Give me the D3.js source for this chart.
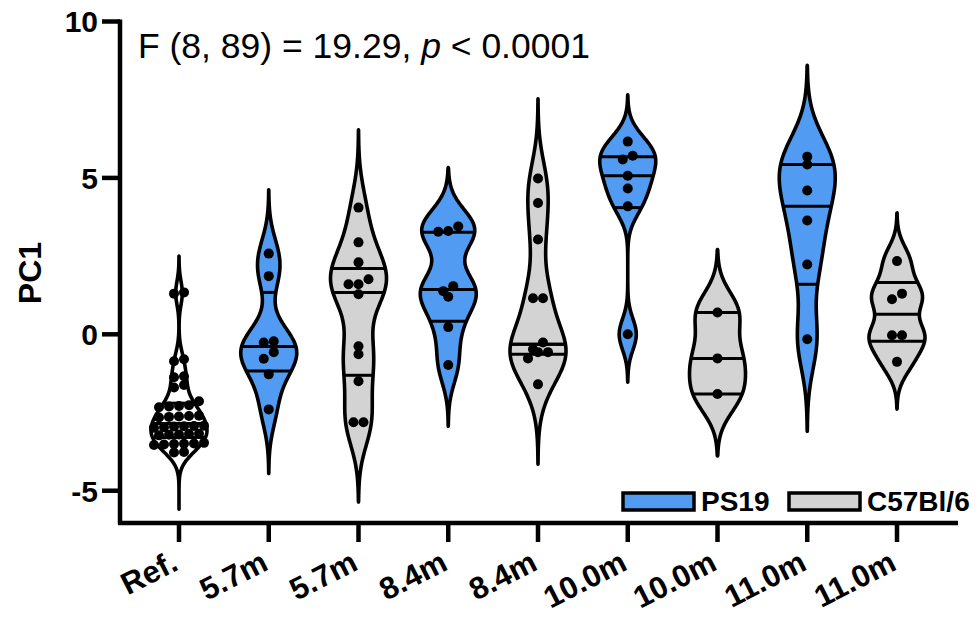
<!DOCTYPE html>
<html>
<head>
<meta charset="utf-8">
<script src="https://cdn.jsdelivr.net/npm/d3@7"></script>
<style>
  body { margin: 0; background: #fff; }
  text { font-family: "Liberation Sans", Arial, sans-serif; }
</style>
</head>
<body>
<svg id="chart" width="980" height="624"></svg>
<script>
// groups along the x axis
const groups = ["Ref.", "5.7m", "5.7m", "8.4m", "8.4m", "10.0m", "10.0m", "11.0m", "11.0m"];
const genotype = ["ref", "PS19", "C57", "PS19", "C57", "PS19", "C57", "PS19", "C57"];

// PC1 scores per animal
const refVals = [1.34, 1.3, -0.8, -0.86, -1.34, -1.37, -1.62, -1.7,
  -2.14, -2.27, -2.29, -2.31, -2.33,
  -2.6, -2.61, -2.63, -2.64, -2.66,
  -2.92, -2.93, -2.94, -2.95, -2.97, -2.99,
  -3.18, -3.19, -3.2, -3.21, -3.23,
  -3.47, -3.49, -3.5, -3.51, -3.52, -3.54,
  -3.76, -3.78];
const ps19_57 = [2.58, 1.86, -0.22, -0.26, -0.57, -0.78, -1.28, -2.4];
const c57_57 = [4.05, 2.94, 2.3, 1.76, 1.6, 1.6, 1.28, -0.38, -0.64, -1.5, -2.81, -2.81];
const ps19_84 = [3.45, 3.3, 3.28, 1.54, 1.38, 1.2, 0.23, -0.98];
const c57_84 = [4.98, 4.2, 3.03, 1.15, 1.15, -0.26, -0.48, -0.57, -0.57, -0.77, -1.6];
const ps19_100 = [6.16, 5.71, 5.59, 5.07, 4.66, 4.09, 0.0];
const c57_100 = [0.7, -0.77, -1.91];
const ps19_110 = [5.68, 5.43, 4.6, 3.64, 2.23, -0.16];
const c57_110 = [2.34, 1.3, 1.12, -0.03, -0.03, -0.88];
const values = [refVals, ps19_57, c57_57, ps19_84, c57_84, ps19_100, c57_100, ps19_110, c57_110];

// quartile lines as shown
const q1 = [-3.3, -1.17, -1.31, 0.42, -0.64, 4.05, -1.91, 1.6, -0.22];
const medians = [-2.85, -0.39, 1.34, 1.43, -0.32, 5.07, -0.77, 4.09, 0.64];
const q3 = [-2.2, 1.34, 2.1, 3.26, -0.32, 5.68, 0.7, 5.43, 1.66];

// violin extent and kernel bandwidth
const violinLow = [-5.59, -4.45, -5.36, -2.94, -4.15, -1.53, -3.89, -3.1, -2.39];
const violinHigh = [2.5, 4.62, 6.54, 5.33, 7.53, 7.66, 2.71, 8.6, 3.88];
const bandwidth = [0.38, 0.68, 0.83, 0.64, 0.85, 0.5, 0.67, 0.97, 0.5];

const yTicks = [-5, 0, 5, 10];
const legendKeys = ["PS19", "C57Bl/6"];

const colors = { ref: "#ffffff", PS19: "#519bf2", C57: "#d3d3d3" };

const svg = d3.select("#chart");

const y = d3.scaleLinear().domain([-6, 10]).range([522, 21.5]);
const x = d3.scalePoint().domain(d3.range(groups.length)).range([179, 897]);

const halfMax = 28;
const dotR = 5;

function kde(vals, bw) {
  return function (v) {
    let s = 0;
    vals.forEach(d => { const u = (v - d) / bw; s += Math.exp(-0.5 * u * u); });
    return s;
  };
}

const g = svg.append("g");

values.forEach((vals, i) => {
  const cx = x(i);
  const dens = kde(vals, bandwidth[i]);
  const grid = d3.range(0, 241).map(k => violinLow[i] + (violinHigh[i] - violinLow[i]) * k / 240);
  const maxD = d3.max(grid, dens);
  const w = v => halfMax * dens(v) / maxD;
  const pts = grid.map((v, k) => ({ v: v, w: (k === 0 || k === grid.length - 1) ? 0 : w(v) }));

  const area = d3.area()
    .x0(d => cx - d.w)
    .x1(d => cx + d.w)
    .y(d => y(d.v))
    .curve(d3.curveMonotoneY);

  g.append("path")
    .datum(pts)
    .attr("d", area)
    .attr("fill", colors[genotype[i]])
    .attr("stroke", "#000")
    .attr("stroke-width", 3.6)
    .attr("stroke-linejoin", "round");

  // median and quartiles
  [q1[i], medians[i], q3[i]].forEach(q => {
    const hw = w(q);
    g.append("line")
      .attr("x1", cx - hw).attr("x2", cx + hw)
      .attr("y1", y(q)).attr("y2", y(q))
      .attr("stroke", "#000")
      .attr("stroke-width", 3);
  });

  // points: rows of close values spread side by side
  const sorted = vals.slice().sort((a, b) => b - a);
  const rows = [];
  sorted.forEach(v => {
    const last = rows[rows.length - 1];
    if (last && Math.abs(y(v) - y(last[0])) < 7.5) last.push(v);
    else rows.push([v]);
  });
  rows.forEach(row => {
    row.sort((a, b) => a - b);
    row.forEach((v, j) => {
      g.append("circle")
        .attr("cx", cx + (j - (row.length - 1) / 2) * dotR * 2)
        .attr("cy", y(v))
        .attr("r", dotR)
        .attr("fill", "#000");
    });
  });
});

// y axis
const yAxis = svg.append("g");
yAxis.append("line")
  .attr("x1", 120).attr("x2", 120)
  .attr("y1", y(10) - 2).attr("y2", 524)
  .attr("stroke", "#000").attr("stroke-width", 4.5);
yTicks.forEach(t => {
  yAxis.append("line")
    .attr("x1", 102).attr("x2", 120)
    .attr("y1", y(t)).attr("y2", y(t))
    .attr("stroke", "#000").attr("stroke-width", 4.5);
  yAxis.append("text")
    .attr("x", 98).attr("y", y(t))
    .attr("dy", "0.36em")
    .attr("text-anchor", "end")
    .attr("font-size", 30).attr("font-weight", "bold")
    .text(t);
});
svg.append("text")
  .attr("transform", "translate(41,273) rotate(-90)")
  .attr("text-anchor", "middle")
  .attr("font-size", 32).attr("font-weight", "bold")
  .text("PC1");

// x axis
const xAxis = svg.append("g");
xAxis.append("line")
  .attr("x1", 118).attr("x2", 958)
  .attr("y1", 523).attr("y2", 523)
  .attr("stroke", "#000").attr("stroke-width", 4.5);
groups.forEach((lab, i) => {
  xAxis.append("line")
    .attr("x1", x(i)).attr("x2", x(i))
    .attr("y1", 523).attr("y2", 542)
    .attr("stroke", "#000").attr("stroke-width", 4.5);
  xAxis.append("text")
    .attr("transform", "translate(" + (x(i) + 1) + ",569) rotate(-27)")
    .attr("text-anchor", "end")
    .attr("font-size", 31).attr("font-weight", "bold")
    .text(lab);
});

// anova annotation
const note = svg.append("text")
  .attr("x", 138).attr("y", 58)
  .attr("font-size", 35.5);
note.append("tspan").text("F (8, 89) = 19.29, ");
note.append("tspan").attr("font-style", "italic").text("p");
note.append("tspan").text(" < 0.0001");

// legend
const legend = svg.append("g");
const legX = [623, 789];
const legFill = [colors.PS19, colors.C57];
legendKeys.forEach((k, i) => {
  legend.append("rect")
    .attr("x", legX[i]).attr("y", 493)
    .attr("width", 71).attr("height", 17)
    .attr("fill", legFill[i])
    .attr("stroke", "#000").attr("stroke-width", 3.5);
  legend.append("text")
    .attr("x", legX[i] + 78).attr("y", 511)
    .attr("font-size", 28).attr("font-weight", "bold")
    .text(k);
});
</script>
</body>
</html>
